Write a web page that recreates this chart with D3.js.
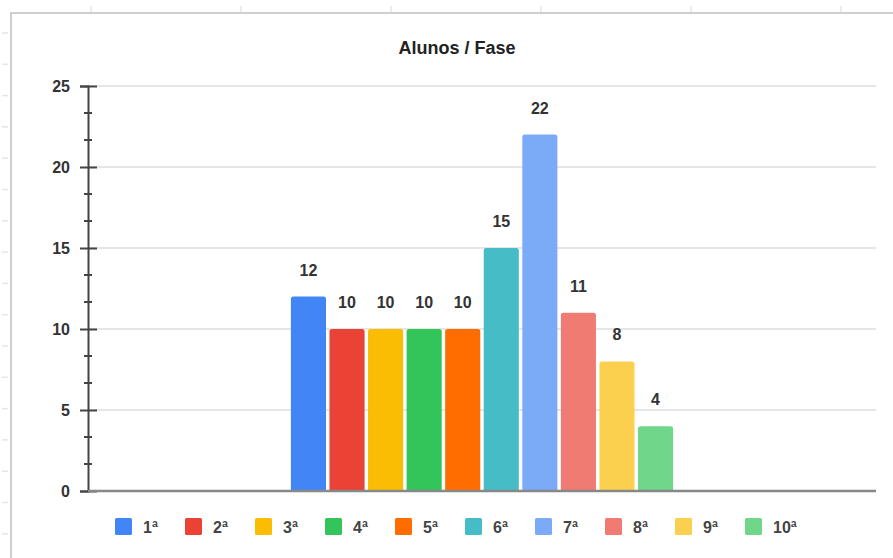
<!DOCTYPE html>
<html><head><meta charset="utf-8">
<script src="https://cdn.jsdelivr.net/npm/d3@7"></script>
<style>html,body{margin:0;padding:0;background:#fff;}svg{display:block;font-family:"Liberation Sans",Arial,sans-serif;}</style>
</head><body>
<svg id="c" width="893" height="558"></svg>
<script>
const title = "Alunos / Fase";
const series = ["1ª","2ª","3ª","4ª","5ª","6ª","7ª","8ª","9ª","10ª"];
const values = [12,10,10,10,10,15,22,11,8,4];
const colors = ["#4285F4","#EA4335","#FBBC04","#33C55A","#FF6D01","#46BDC6","#7BAAF7","#F07B72","#FCD04F","#70D68A"];
const yTicks = [0,5,10,15,20,25];

const svg = d3.select("#c");
// sheet frame decorations
const deco = svg.append("g");
d3.range(91, 893, 150).forEach(x => deco.append("line").attr("x1",x).attr("x2",x).attr("y1",6).attr("y2",12).attr("stroke","#e6e6e6").attr("stroke-width",1.5));
d3.range(33, 558, 31.3).forEach(y => deco.append("line").attr("x1",2).attr("x2",8).attr("y1",y).attr("y2",y).attr("stroke","#e6e6e6").attr("stroke-width",1.5));
svg.append("rect").attr("x",12).attr("y",14).attr("width",893).attr("height",560).attr("fill","#fff");
svg.append("line").attr("x1",11).attr("x2",893).attr("y1",13).attr("y2",13).attr("stroke","#cfcfcf").attr("stroke-width",2);
svg.append("line").attr("x1",11).attr("x2",11).attr("y1",12).attr("y2",558).attr("stroke","#cfcfcf").attr("stroke-width",2);

const m = {left:88, right:876, top:86, bottom:491};
const y = d3.scaleLinear().domain([0,25]).range([m.bottom, m.top]);
const plotW = m.right - m.left;
const groupW = plotW * 0.485;
const gx0 = m.left + (plotW - groupW)/2;
const x = d3.scaleBand().domain(series).range([gx0, gx0 + groupW]).paddingInner(0.09).paddingOuter(0);

// gridlines
svg.append("g").selectAll("line").data(yTicks.filter(d=>d>0)).join("line")
  .attr("x1",m.left).attr("x2",m.right).attr("y1",d=>y(d)).attr("y2",d=>y(d))
  .attr("stroke","#dedede").attr("stroke-width",1.5);

// title
svg.append("text").attr("x",457).attr("y",54).attr("text-anchor","middle")
  .attr("font-size",18).attr("font-weight","bold").attr("fill","#222").text(title);

// bars with rounded tops
const r = 2.5;
svg.append("g").selectAll("path").data(values).join("path")
  .attr("fill",(d,i)=>colors[i])
  .attr("d",(d,i)=>{
    const x0 = x(series[i]), w = x.bandwidth(), y0 = y(d), yb = y(0);
    return `M${x0},${yb}V${y0+r}Q${x0},${y0} ${x0+r},${y0}H${x0+w-r}Q${x0+w},${y0} ${x0+w},${y0+r}V${yb}Z`;
  });

// value labels
svg.append("g").selectAll("text").data(values).join("text")
  .attr("x",(d,i)=>x(series[i]) + x.bandwidth()/2)
  .attr("y",d=>y(d) - 21)
  .attr("text-anchor","middle").attr("font-size",16).attr("font-weight","bold").attr("fill","#333")
  .text(d=>d);

// y axis
const yAxis = d3.axisLeft(y).tickValues(yTicks).tickSize(8).tickPadding(10);
const ga = svg.append("g").attr("transform",`translate(${m.left},0)`).call(yAxis);
ga.select(".domain").attr("stroke","#444").attr("stroke-width",2);
ga.selectAll(".tick line").attr("stroke","#444").attr("stroke-width",2).attr("x2",-8).attr("x1",9);
ga.selectAll(".tick text").attr("font-size",16).attr("font-weight","bold").attr("fill","#333").attr("font-family","Liberation Sans, Arial, sans-serif");
// minor ticks
const minor = [];
for (let i=0;i<yTicks.length-1;i++){ const a=yTicks[i], b=yTicks[i+1]; minor.push(a+(b-a)/3, a+2*(b-a)/3); }
svg.append("g").selectAll("line").data(minor).join("line")
  .attr("x1",m.left-4).attr("x2",m.left+4).attr("y1",d=>y(d)).attr("y2",d=>y(d))
  .attr("stroke","#444").attr("stroke-width",2);
// baseline
svg.append("line").attr("x1",m.left).attr("x2",m.right).attr("y1",y(0)).attr("y2",y(0))
  .attr("stroke","#888").attr("stroke-width",2.5);

// legend
const lg = svg.append("g").selectAll("g").data(series).join("g")
  .attr("transform",(d,i)=>`translate(${115 + i*70},518)`);
lg.append("rect").attr("width",17).attr("height",17).attr("rx",1.5).attr("fill",(d,i)=>colors[i]);
lg.append("text").attr("x",28).attr("y",14.5).attr("font-size",16).attr("font-weight","bold").attr("fill","#444").text(d=>d);
</script>
</body></html>
